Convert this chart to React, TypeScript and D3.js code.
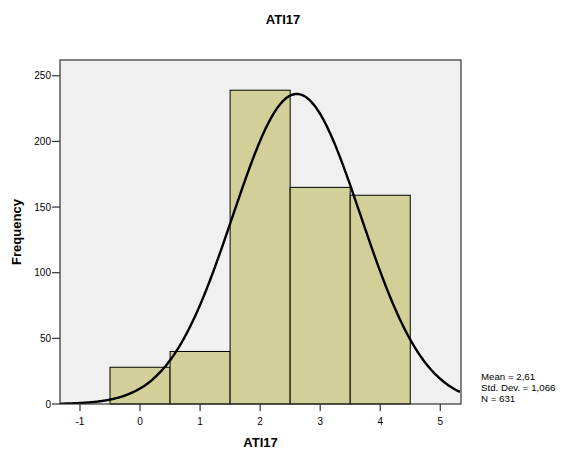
import React from "react";
import * as d3 from "d3";

// histogram bins (value = bin center), counts
const binCenters = [0, 1, 2, 3, 4];
const binCounts = [28, 40, 239, 165, 159];
const xTicks = [-1, 0, 1, 2, 3, 4, 5];
const yTicks = [0, 50, 100, 150, 200, 250];
const mean = 2.61;
const sd = 1.066;
const n = 631;
const statLines = ["Mean = 2,61", "Std. Dev. = 1,066", "N = 631"];

const W = 566;
const H = 452;
const margin = { left: 60, top: 60, right: 105, bottom: 48 };

export default function App() {
  const x = d3
    .scaleLinear()
    .domain([-1.333, 5.345])
    .range([margin.left, W - margin.right]);
  const y = d3
    .scaleLinear()
    .domain([0, 262])
    .range([H - margin.bottom, margin.top]);

  // normal curve scaled to counts (bin width 1)
  const pdf = (v: number) =>
    (n * 1 * Math.exp(-((v - mean) ** 2) / (2 * sd * sd))) /
    (sd * Math.sqrt(2 * Math.PI));
  const curveXs = d3.range(-1.333, 5.346, 0.02);
  const line = d3
    .line<number>()
    .x((d) => x(d))
    .y((d) => y(pdf(d)))
    .curve(d3.curveBasis);

  const font = "'Liberation Sans', Arial, sans-serif";
  const [x0, x1] = x.range();
  const [yb, yt] = y.range();

  return (
    <svg width={W} height={H} style={{ position: "absolute", left: 0, top: 0 }} fontFamily={font}>
      <rect width={W} height={H} fill="#fff" />
      <text x={283} y={24} textAnchor="middle" fontSize={13} fontWeight="bold">
        ATI17
      </text>
      <defs>
        <clipPath id="plot">
          <rect x={x0} y={yt} width={x1 - x0} height={yb - yt} />
        </clipPath>
      </defs>
      <rect x={x0} y={yt} width={x1 - x0} height={yb - yt} fill="#f0f0f0" />
      <g className="bars">
        {binCenters.map((c, i) => (
          <rect
            key={i}
            x={x(c - 0.5)}
            y={y(binCounts[i])}
            width={x(c + 0.5) - x(c - 0.5)}
            height={y(0) - y(binCounts[i])}
            fill="#d3cf99"
            stroke="#000"
            strokeWidth={1}
          />
        ))}
      </g>
      <path
        d={line(curveXs) || ""}
        fill="none"
        stroke="#000"
        strokeWidth={2.4}
        clipPath="url(#plot)"
      />
      <rect
        x={x0}
        y={yt}
        width={x1 - x0}
        height={yb - yt}
        fill="none"
        stroke="#333"
        strokeWidth={1.2}
      />
      <g className="yAxis">
        {yTicks.map((t) => (
          <g key={t}>
            <line x1={x0 - 8} x2={x0} y1={y(t)} y2={y(t)} stroke="#333" strokeWidth={1.2} />
            <text x={x0 - 9} y={y(t) + 3.5} textAnchor="end" fontSize={10}>
              {t}
            </text>
          </g>
        ))}
      </g>
      <g className="xAxis">
        {xTicks.map((t) => (
          <g key={t}>
            <line x1={x(t)} x2={x(t)} y1={yb} y2={yb + 7} stroke="#333" strokeWidth={1.2} />
            <text x={x(t)} y={yb + 21} textAnchor="middle" fontSize={10}>
              {t}
            </text>
          </g>
        ))}
      </g>
      <text x={(x0 + x1) / 2} y={447} textAnchor="middle" fontSize={13} fontWeight="bold">
        ATI17
      </text>
      <text
        transform={`translate(21, ${(yb + yt) / 2}) rotate(-90)`}
        textAnchor="middle"
        fontSize={13}
        fontWeight="bold"
      >
        Frequency
      </text>
      <g className="stats">
        {statLines.map((s, i) => (
          <text key={i} x={481} y={380 + i * 11} fontSize={9.7}>
            {s}
          </text>
        ))}
      </g>
    </svg>
  );
}
